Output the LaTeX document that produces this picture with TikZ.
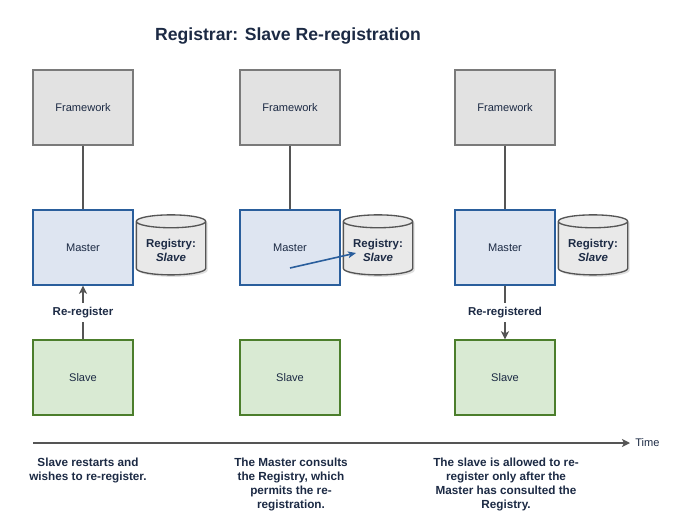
\documentclass[tikz,border=0pt]{standalone}
\usepackage{fontspec}
\setmainfont{Liberation Sans}
\usetikzlibrary{arrows.meta,shapes.geometric,shadows}
\definecolor{txtcol}{HTML}{1C2A44}
\definecolor{fwfill}{HTML}{E2E2E2}
\definecolor{fwline}{HTML}{7A7A7A}
\definecolor{mafill}{HTML}{DEE5F1}
\definecolor{maline}{HTML}{2A5E9C}
\definecolor{slfill}{HTML}{D9EAD3}
\definecolor{slline}{HTML}{4C7E2C}
\definecolor{regfill}{HTML}{E9E9E9}
\definecolor{linkcol}{HTML}{555555}
\tikzset{
  box/.style={draw, line width=1.3pt, minimum width=75pt, minimum height=56pt,
    font=\fontsize{8.3}{10}\selectfont, text=txtcol},
  fwbox/.style={box, fill=fwfill, draw=fwline},
  mabox/.style={box, fill=mafill, draw=maline},
  slbox/.style={box, fill=slfill, draw=slline},
  regbox/.style={cylinder, shape border rotate=90, aspect=0.22, draw=linkcol,
    line width=1pt, fill=regfill, minimum width=52pt, minimum height=45pt,
    align=center, font=\bfseries\fontsize{8.6}{10.5}\selectfont, text=txtcol,
    drop shadow={opacity=0.25, shadow xshift=1.5pt, shadow yshift=-1.5pt}},
  link/.style={draw=linkcol, line width=1.4pt},
  tip/.style={-{Stealth[length=6pt,width=6pt,inset=1.5pt]}},
  lbl/.style={font=\bfseries\fontsize{8.6}{10}\selectfont, text=txtcol, fill=white},
  note/.style={font=\bfseries\fontsize{8.8}{10.5}\selectfont, text=txtcol, align=center, anchor=north}
}
\begin{document}
\begin{tikzpicture}[x=0.75pt,y=-0.75pt]
  \useasboundingbox (0,0) rectangle (696,528);
  \node[font=\bfseries\fontsize{13.2}{15}\selectfont, text=txtcol] (title) at (288,36)
    {Registrar: Slave Re-registration};

  % three snapshots, left to right
  \foreach \i/\x in {1/83,2/290,3/505}{
    \node[fwbox] (fw\i) at (\x,107.5) {Framework};
    \node[mabox] (m\i) at (\x,247.5) {Master};
    \node[slbox] (s\i) at (\x,377.5) {Slave};
    \node[regbox] (r\i) at (\x+88,250) {Registry:\\\textit{Slave}};
  }
  \foreach \i in {1,2,3}
    \draw[link] (fw\i) -- (m\i);

  \draw[link,tip] (s1) -- node[lbl] {Re-register} (m1);
  \coordinate (q2) at (290,268);
  \coordinate (p2) at (356,253);
  \draw[maline,line width=1.2pt,-{Stealth[length=6pt,width=5pt,inset=1.5pt]}] (q2) -- (p2);
  \draw[link,tip] (m3) -- node[lbl] {Re-registered} (s3);

  % time axis
  \coordinate (t0) at (33,443);
  \coordinate (t1) at (630,443);
  \draw[link,tip] (t0) -- (t1) node[right, font=\fontsize{8.3}{10}\selectfont, text=txtcol] (time) {Time};

  \node[note] (n1) at (88,453) {Slave restarts and\\wishes to re-register.};
  \node[note] (n2) at (291,453) {The Master consults\\the Registry, which\\permits the re-\\registration.};
  \node[note] (n3) at (506,453) {The slave is allowed to re-\\register only after the\\Master has consulted the\\Registry.};
\end{tikzpicture}
\end{document}
